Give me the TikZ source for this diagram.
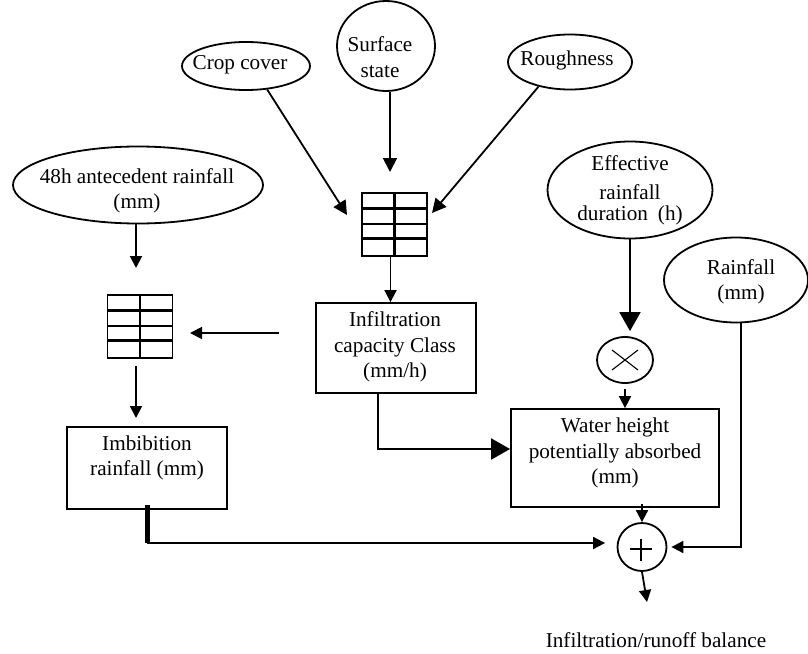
\documentclass[tikz,border=0pt]{standalone}
\usepackage{fontspec}
\setmainfont{Liberation Serif}
\usetikzlibrary{shapes.geometric,arrows.meta,calc}
\begin{document}
\begin{tikzpicture}[x=1pt,y=-1pt,
  every node/.style={font=\fontsize{21.2}{25.5}\selectfont},
  ell/.style={draw, ellipse, line width=1.8pt, inner sep=0pt},
  box/.style={draw, rectangle, line width=1.8pt, inner sep=0pt},
  txt/.style={align=center, inner sep=0pt},
  ln/.style={line width=1.8pt},
  arr/.style={ln, -{Triangle[length=14pt,width=14pt]}},
  arrs/.style={ln, -{Triangle[length=12pt,width=12pt]}},
  arrb/.style={ln, -{Triangle[length=19pt,width=21pt]}},
  gridbox/.style={draw, line width=1.6pt, minimum width=65pt, minimum height=63pt, inner sep=0pt,
    path picture={
      \draw[line width=2.6pt] (path picture bounding box.north) -- (path picture bounding box.south);
      \foreach \f in {0.25,0.49,0.72}{
        \draw[line width=2.6pt] ($(path picture bounding box.north west)!\f!(path picture bounding box.south west)$) -- ($(path picture bounding box.north east)!\f!(path picture bounding box.south east)$);
      }
    }}
]
\useasboundingbox (0,0) rectangle (808,653);

% ellipses
\node[ell, minimum width=128pt, minimum height=48pt] (crop) at (246,66) {};
\node[txt] (cropt) at (240,65) {Crop cover};
\node[ell, minimum width=98pt, minimum height=90pt] (surf) at (386,46) {};
\node[txt] (surft) at (380,57) {Surface\\state};
\node[ell, minimum width=124pt, minimum height=55pt] (rough) at (570,62) {};
\node[txt] (rought) at (567,60) {Roughness};
\node[ell, minimum width=250pt, minimum height=77pt] (ante) at (138,185) {};
\node[txt] (antet) at (137,191) {48h antecedent rainfall\\(mm)};
\node[ell, minimum width=165pt, minimum height=97pt] (eff) at (630,190) {};
\node[txt] (efft) at (630,190) {Effective\\[4pt]rainfall\\[-5pt]duration\hspace{10pt}(h)};
\node[ell, minimum width=144pt, minimum height=85pt] (rain) at (736,280) {};
\node[txt] (raint) at (741,282) {Rainfall\\(mm)};

% grids
\node[gridbox] (g1) at (394.5,224.5) {};
\node[gridbox] (g2) at (140,326.5) {};

% boxes
\node[box, minimum width=160pt, minimum height=90pt] (infil) at (396,348) {};
\node[txt] (infilt) at (395,347) {Infiltration\\capacity Class\\(mm/h)};
\node[box, minimum width=160pt, minimum height=82pt] (imb) at (147,468) {};
\node[txt] (imbt) at (147,458) {Imbibition\\rainfall (mm)};
\node[box, minimum width=208pt, minimum height=98pt] (water) at (615,458) {};
\node[txt] (watert) at (615,453) {Water height\\potentially absorbed\\(mm)};

% operators
\node[ell, minimum width=56pt, minimum height=46pt] (times) at (625,360) {};
\draw[line width=1.1pt] ($(times)+(-13,-10)$) -- ($(times)+(13,10)$);
\draw[line width=1.1pt] ($(times)+(-13,10)$) -- ($(times)+(13,-10)$);
\node[ell, minimum width=49pt, minimum height=48pt] (plus) at (642,547) {};
\draw[line width=1.1pt] ($(plus)+(-12,2)$) -- ($(plus)+(10,2)$);
\draw[line width=1.1pt] ($(plus)+(-1,-8)$) -- ($(plus)+(-1,14)$);

\node[txt] (out) at (656,640) {Infiltration/runoff balance};

% connectors
\coordinate (g1a) at (347,215);
\draw[arr] (crop.-48) -- (g1a);
\coordinate (g1b) at (390,172);
\draw[arr] (surf.south -| g1b) -- (g1b);
\coordinate (g1c) at (432,213);
\draw[arr] (rough.-142) -- (g1c);
\draw[arrs] ([xshift=-4pt]g1.south) -- ([xshift=-4pt]g1.south |- infil.north);

\coordinate (g2a) at (190,333);
\draw[arrs, shorten <=36pt] ([yshift=15pt]infil.west) -- (g2a);
\coordinate (g2b) at (136,268);
\draw[arrs] (ante.south -| g2b) -- (g2b);
\coordinate (g2c) at (136,418);
\draw[arrs, shorten <=7pt] (g2.south -| g2c) -- (g2c);

\coordinate (imbc) at (147,543);
\draw[line width=5pt] ([yshift=5pt]imb.south) -- (imbc);
\draw[arrs, shorten >=11.5pt] (imbc) -- (imbc -| plus.west);

\draw[arrb] ([xshift=-18pt]infil.south) |- ([yshift=9pt]water.west);
\draw[arrb, shorten >=5pt] (eff.south) -- (eff.south |- times.north);
\draw[arrs, shorten <=5pt] (times.south) -- (times.south |- water.north);
\draw[arrs, shorten <=-4pt] (plus.north |- water.south) -- (plus.north);
\draw[arrs, shorten >=4pt] ([xshift=5pt]rain.south) |- (plus.east);
\coordinate (outc) at (647,602);
\draw[arrs] (plus.south) -- (outc);
\end{tikzpicture}
\end{document}
